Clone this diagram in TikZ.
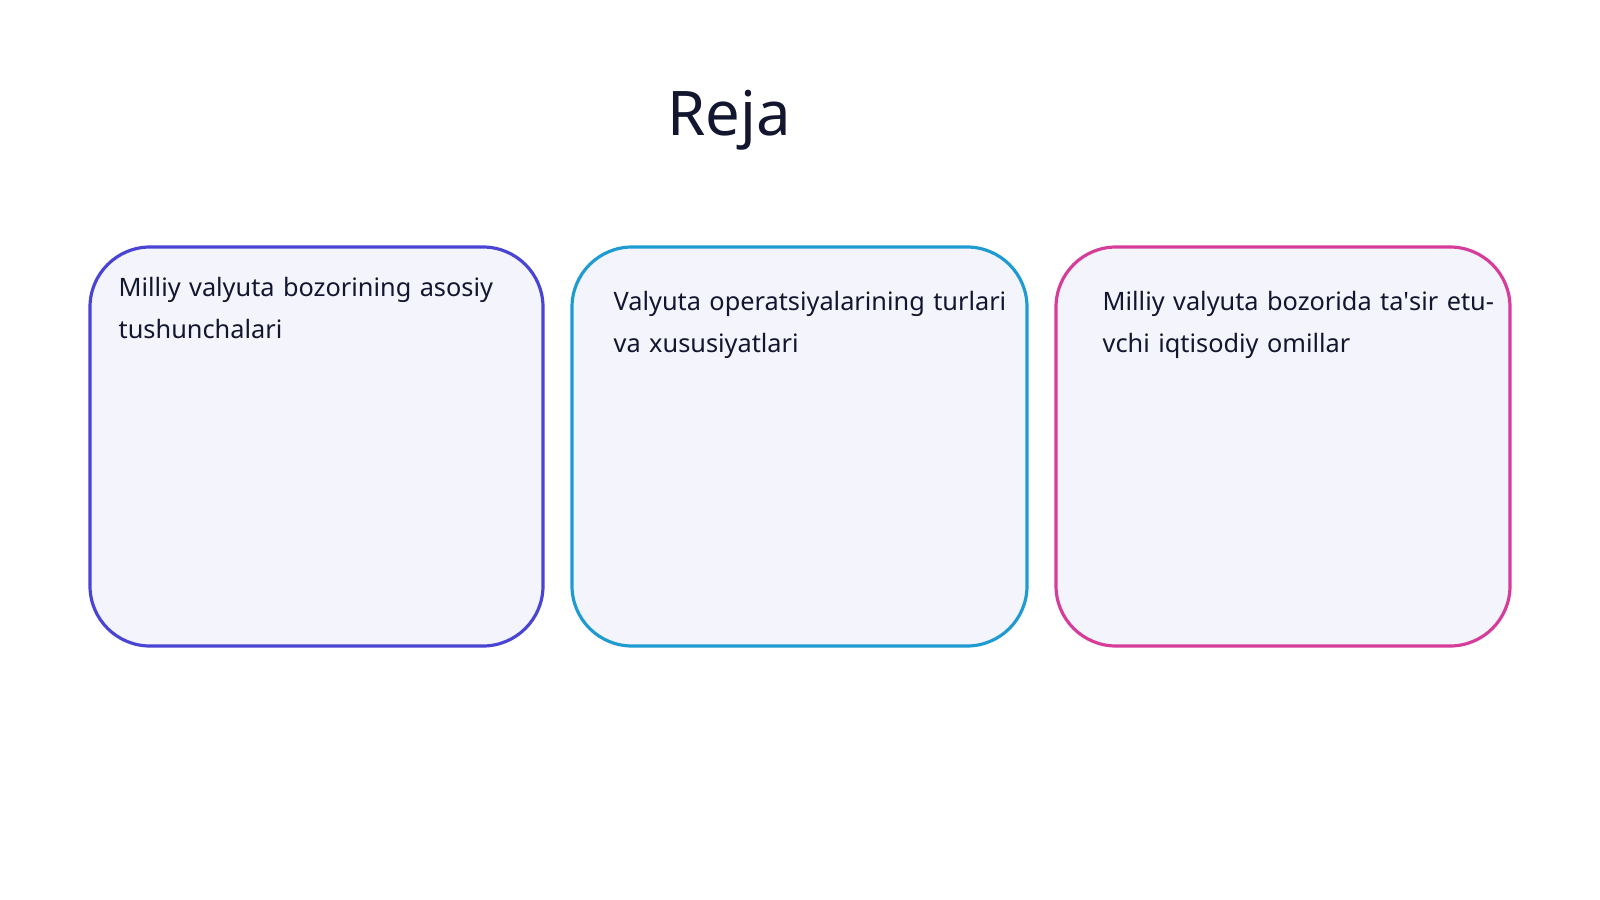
\documentclass[tikz,border=0pt]{standalone}
\usepackage{fontspec}
\setmainfont{Noto Sans}
\usepackage{tikz}
\definecolor{ink}{HTML}{12162E}
\definecolor{edgeA}{HTML}{4A44D4}
\definecolor{edgeB}{HTML}{1E9BD0}
\definecolor{edgeC}{HTML}{D63D9B}
\definecolor{paper}{HTML}{F4F4FC}
\begin{document}
\begin{tikzpicture}[
        x=0.01cm, y=-0.01cm,
        card/.style={line width=0.9pt, fill=paper, rounded corners=0.6cm},
        cardtext/.style={anchor=north west, inner sep=0pt, text width=4.15cm, align=left,
            font=\fontsize{7.2}{11.8}\selectfont, text=ink}
        ]
    \useasboundingbox (0,0) rectangle (1600,900);

    % Title
    \node[font=\fontsize{17.5}{21}\selectfont, text=ink] (title) at (729,120) {Reja};

    % Cards
    \draw[card, draw=edgeA] (90,247) rectangle (543,646);
    \draw[card, draw=edgeB] (572,247) rectangle (1027,646);
    \draw[card, draw=edgeC] (1056,247) rectangle (1510,646);

    % Card texts
    \node[cardtext] (t1) at (118,277) {Milliy valyuta bozorining asosiy tushunchalari};
    \node[cardtext] (t2) at (613,291) {Valyuta operatsiyalarining turlari va xususiyatlari};
    \node[cardtext] (t3) at (1102,291) {Milliy valyuta bozorida ta\textquotesingle sir etuvchi iqtisodiy omillar};
\end{tikzpicture}
\end{document}
